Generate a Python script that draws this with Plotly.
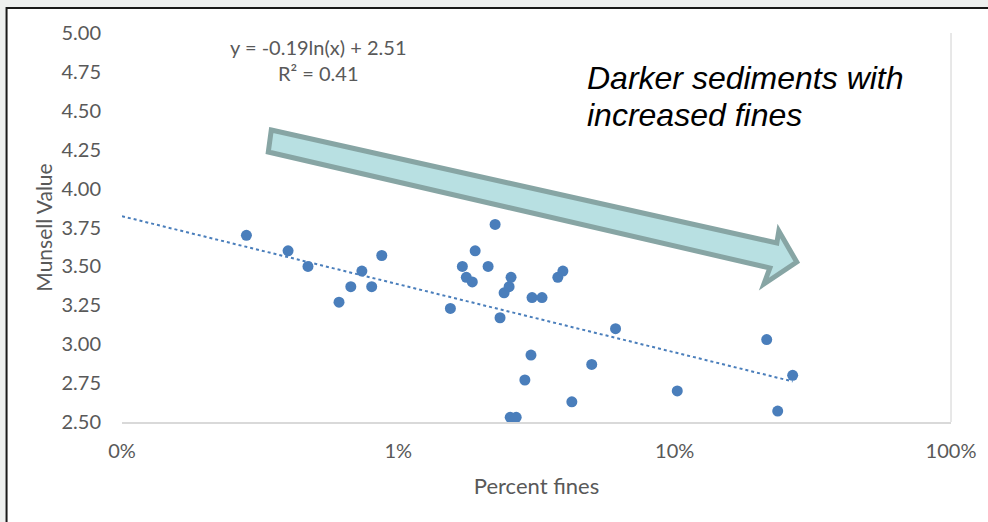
import math
import plotly.graph_objects as go

# ---- data (percent fines as fraction, Munsell value) ----
percent_fines = [0.00282, 0.00399, 0.00471, 0.00610, 0.00673, 0.00738, 0.00801, 0.00871,
                 0.01543, 0.01705, 0.01762, 0.01852, 0.01897, 0.02113, 0.02240, 0.02334,
                 0.02414, 0.02517, 0.02558, 0.03047, 0.03311, 0.03020, 0.02870, 0.02540,
                 0.02670, 0.03777, 0.03940, 0.04245, 0.05010, 0.06110, 0.10220, 0.21530,
                 0.23600, 0.26730]
munsell_value = [3.70, 3.60, 3.50, 3.27, 3.37, 3.47, 3.37, 3.57,
                 3.23, 3.50, 3.43, 3.40, 3.60, 3.50, 3.77, 3.17,
                 3.33, 3.37, 3.43, 3.30, 3.30, 2.93, 2.77, 2.53,
                 2.53, 3.43, 3.47, 2.63, 2.87, 3.10, 2.70, 3.03,
                 2.57, 2.80]

trend_a = -0.19
trend_b = 2.51
trend_r2 = 0.41
trend_x_start = 0.001

x_tickvals = [0.001, 0.01, 0.1, 1]
x_ticktext = ["0%", "1%", "10%", "100%"]

trend_x = [trend_x_start, max(percent_fines)]
trend_y = [trend_a * math.log(v) + trend_b for v in trend_x]

W, H = 988, 522
L, R, T, B = 122, 955, 33, 422
PW, PH = R - L, B - T

def px(xp, yp):
    return (xp - L) / PW, (B - yp) / PH

BLUE = "#4a7ebb"
GRAY = "#595959"
FONT = "Lato"

fig = go.Figure()
fig.add_trace(go.Scatter(x=trend_x, y=trend_y, mode="lines",
                         line=dict(color=BLUE, width=2, dash="dot"),
                         hoverinfo="skip", showlegend=False))
fig.add_trace(go.Scatter(x=percent_fines, y=munsell_value, mode="markers",
                         marker=dict(color=BLUE, size=11, line=dict(width=0)),
                         showlegend=False))

shapes = []
# outer frame
x0, y0 = px(6, 8)
x1, y1 = px(1000, 540)
shapes.append(dict(type="rect", xref="paper", yref="paper", x0=x0, y0=y1, x1=x1, y1=y0,
                   fillcolor="white", line=dict(color="#1a1a1a", width=2), layer="below"))
# right plot border
shapes.append(dict(type="line", xref="paper", yref="paper", x0=1, x1=1, y0=0, y1=1,
                   line=dict(color="#d0d0d0", width=1)))
# block arrow
arrow_pts = [(272, 130), (780, 243), (782, 231), (800, 262), (767, 284), (773, 268), (269, 152)]
path = "M " + " L ".join("%.5f,%.5f" % px(a, b) for a, b in arrow_pts) + " Z"
shapes.append(dict(type="path", xref="paper", yref="paper", path=path,
                   fillcolor="#b8e0e2", line=dict(color="#87a5a4", width=5), layer="above"))

eq_text = "y = %.2fln(x) + %.2f<br>R² = %.2f" % (trend_a, trend_b, trend_r2)
annotations = [
    dict(xref="paper", yref="paper", x=px(319, 0)[0], y=px(0, 60)[1],
         xanchor="center", yanchor="middle",
         text=eq_text, showarrow=False,
         font=dict(family=FONT, size=20, color=GRAY), align="center"),
    dict(xref="paper", yref="paper", x=px(587, 0)[0], y=px(0, 78)[1],
         xanchor="left", yanchor="middle",
         text="<i>Darker sediments with</i>", showarrow=False,
         font=dict(family="Liberation Sans", size=32, color="black")),
    dict(xref="paper", yref="paper", x=px(587, 0)[0], y=px(0, 115)[1],
         xanchor="left", yanchor="middle",
         text="<i>increased fines</i>", showarrow=False,
         font=dict(family="Liberation Sans", size=32, color="black")),
]

fig.update_layout(
    width=W, height=H,
    margin=dict(l=L, r=W - R, t=T, b=H - B),
    paper_bgcolor="#eef0ef", plot_bgcolor="white",
    shapes=shapes, annotations=annotations,
    xaxis=dict(type="log", range=[-3, 0], tickvals=x_tickvals, ticktext=x_ticktext,
               showgrid=False, zeroline=False, showline=True, linecolor="#d9d9d9", linewidth=2,
               ticks="outside", ticklen=10, tickcolor="rgba(0,0,0,0)",
               tickfont=dict(family=FONT, size=20, color=GRAY),
               title=dict(text="Percent fines", standoff=18,
                          font=dict(family=FONT, size=22, color=GRAY))),
    yaxis=dict(range=[2.5, 5.0], dtick=0.25, tickformat=".2f",
               showgrid=False, zeroline=False, showline=False,
               ticks="outside", ticklen=16, tickcolor="rgba(0,0,0,0)",
               tickfont=dict(family=FONT, size=20, color=GRAY),
               title=dict(text="Munsell Value", standoff=3,
                          font=dict(family=FONT, size=21, color=GRAY))),
)

fig.write_html("out.html")
